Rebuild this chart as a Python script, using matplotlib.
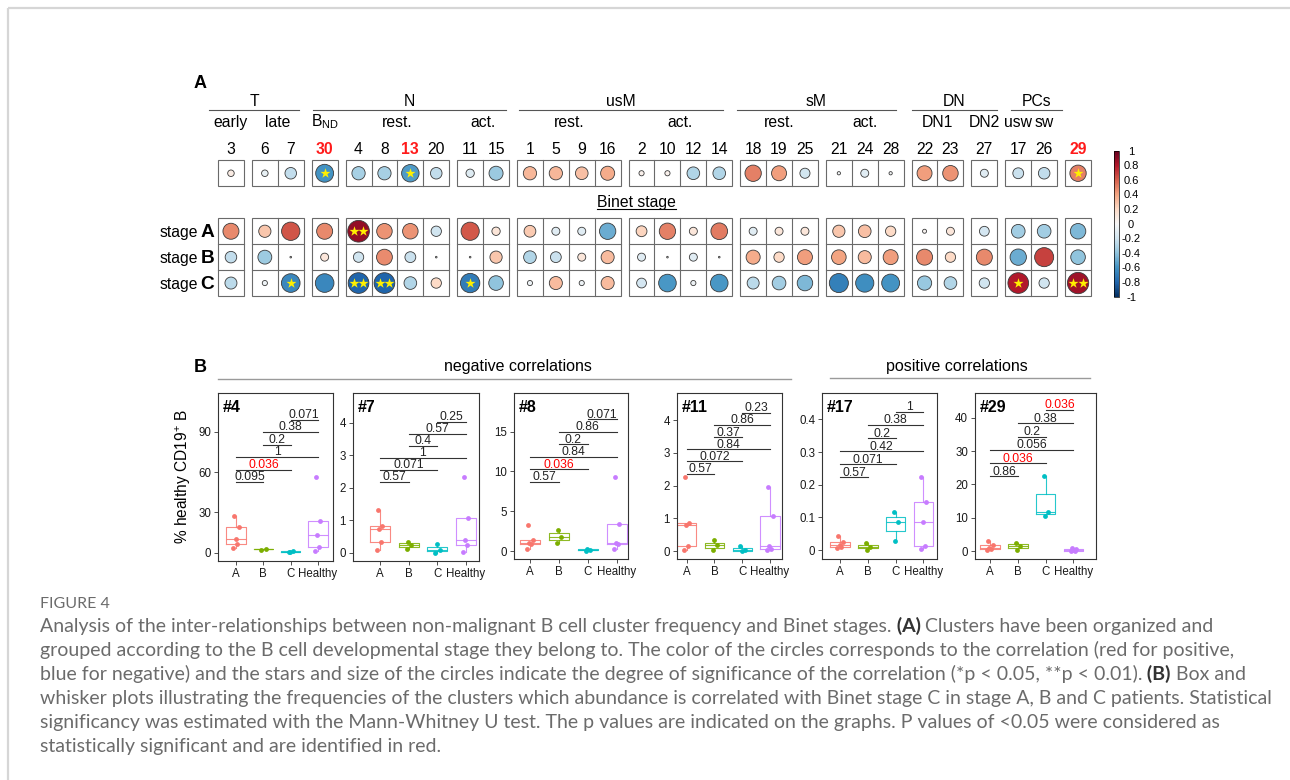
import numpy as np
import matplotlib
matplotlib.use('Agg')
import matplotlib.pyplot as plt
from matplotlib.patches import Rectangle
from matplotlib.offsetbox import TextArea, HPacker, AnchoredOffsetbox
import matplotlib.transforms as mtransforms

plt.rcParams['font.family'] = ['Liberation Sans', 'DejaVu Sans']
plt.rcParams['mathtext.fontset'] = 'custom'
plt.rcParams['mathtext.rm'] = 'Liberation Sans'
plt.rcParams['mathtext.it'] = 'Liberation Sans:italic'
plt.rcParams['mathtext.bf'] = 'Liberation Sans:bold'
plt.rcParams['axes.unicode_minus'] = False

# ---------------- Panel A data ----------------
clusters = [3, 6, 7, 30, 4, 8, 13, 20, 11, 15, 1, 5, 9, 16, 2, 10, 12, 14,
            18, 19, 25, 21, 24, 28, 22, 23, 27, 17, 26, 29]
box_sizes = [1, 2, 1, 4, 2, 4, 4, 3, 3, 2, 1, 2, 1]
highlight_clusters = [30, 13, 29]

corr_all = [0.08, -0.08, -0.25, -0.6, -0.33, -0.33, -0.57, -0.25, -0.13, -0.37,
            0.33, 0.33, 0.3, 0.37, 0.05, 0.05, -0.3, -0.3,
            0.5, 0.42, -0.19, -0.02, -0.12, -0.02, 0.42, 0.45, -0.12, -0.22, -0.25, 0.5]
corr_A = [0.48, 0.28, 0.63, 0.48, 0.88, 0.45, 0.45, -0.2, 0.62, 0.13,
          0.26, -0.12, -0.12, -0.5, 0.22, 0.5, 0.12, 0.52,
          -0.12, 0.12, 0.12, 0.28, 0.3, 0.2, 0.03, 0.12, -0.18, -0.35, -0.35, -0.45]
corr_B = [-0.25, -0.36, 0.005, 0.12, -0.2, 0.47, -0.22, -0.005, 0.005, 0.28,
          -0.3, -0.22, 0.12, 0.32, -0.12, 0.005, -0.12, 0.005,
          0.37, 0.2, 0.42, 0.4, 0.32, 0.42, 0.48, 0.2, 0.48, -0.5, 0.68, -0.4]
corr_C = [-0.27, -0.05, -0.65, -0.65, -0.8, -0.8, -0.3, 0.2, -0.7, -0.4,
          -0.05, 0.32, -0.05, 0.32, -0.18, -0.58, -0.05, -0.58,
          -0.27, -0.35, -0.45, -0.68, -0.62, -0.6, -0.38, -0.3, -0.2, 0.8, -0.2, 0.85]
stars_all = {30: 1, 13: 1, 29: 1}
stars_A = {4: 2}
stars_B = {}
stars_C = {7: 1, 4: 2, 8: 2, 11: 1, 17: 1, 29: 2}

sub_labels = [('early', [3]), ('late', [6, 7]), (r'B$_{\mathrm{ND}}$', [30]),
              ('rest.', [4, 8, 13, 20]), ('act.', [11, 15]),
              ('rest.', [1, 5, 9, 16]), ('act.', [2, 10, 12, 14]),
              ('rest.', [18, 19, 25]), ('act.', [21, 24, 28]),
              ('DN1', [22, 23]), ('DN2', [27]), ('usw', [17]), ('sw', [26])]
group_labels = ['T', 'N', 'usM', 'sM', 'DN', 'PCs']
stage_names = ['A', 'B', 'C']
cbar_ticks = [1, 0.8, 0.6, 0.4, 0.2, 0, -0.2, -0.4, -0.6, -0.8, -1]

# ---------------- Panel B data ----------------
panel_titles = ['#4', '#7', '#8', '#11', '#17', '#29']
groups = ['A', 'B', 'C', 'Healthy']
vals_4 = [[27.3, 19.1, 9.9, 6.2, 3.7], [2.4, 2.6], [0.4, 1.6, 0.2], [56, 23.5, 13.2, 4.5, 1.2]]
vals_7 = [[1.31, 0.83, 0.73, 0.32, 0.08], [0.1, 0.24, 0.34], [0.0, 0.09, 0.26], [2.33, 1.06, 0.4, 0.24, 0.03]]
vals_8 = [[3.27, 1.38, 1.05, 0.84, 0.25], [1.05, 1.8, 2.64], [0.05, 0.15, 0.3], [9.34, 3.35, 0.96, 0.84, 0.2]]
vals_11 = [[2.27, 0.86, 0.8, 0.17, 0.02], [0.03, 0.18, 0.34], [0.17, 0.03, 0.0], [1.96, 1.07, 0.15, 0.06, 0.04]]
vals_17 = [[0.043, 0.026, 0.015, 0.01, 0.007], [0.022, 0.01, 0.0], [0.117, 0.087, 0.028], [0.224, 0.146, 0.085, 0.012, 0.004]]
vals_29 = [[3.1, 1.7, 1.0, 0.5, 0.2], [2.5, 1.6, 0.4], [22.6, 11.8, 10.4], [0.8, 0.5, 0.3, 0.1, 0.0]]
panel_values = [vals_4, vals_7, vals_8, vals_11, vals_17, vals_29]

comparisons = [(1, 2), (1, 3), (1, 4), (2, 3), (2, 4), (3, 4)]
pvals_4 = ['0.095', '0.036', '1', '0.2', '0.38', '0.071']
pvals_7 = ['0.57', '0.071', '1', '0.4', '0.57', '0.25']
pvals_8 = ['0.57', '0.036', '0.84', '0.2', '0.86', '0.071']
pvals_11 = ['0.57', '0.072', '0.84', '0.37', '0.86', '0.23']
pvals_17 = ['0.57', '0.071', '0.42', '0.2', '0.38', '1']
pvals_29 = ['0.86', '0.036', '0.056', '0.2', '0.38', '0.036']
panel_pvals = [pvals_4, pvals_7, pvals_8, pvals_11, pvals_17, pvals_29]
bracket_base = [52.6, 2.18, 8.7, 2.37, 0.2225, 22.4]
bracket_step = [9.3, 0.37, 1.57, 0.37, 0.04, 4.0]
panel_yticks = [[0, 30, 60, 90], [0, 1, 2, 3, 4], [0, 5, 10, 15], [0, 1, 2, 3, 4],
                [0, 0.1, 0.2, 0.3, 0.4], [0, 10, 20, 30, 40]]
panel_ylims = [(-5.9, 118.6), (-0.25, 4.9), (-1.04, 19.8), (-0.25, 4.82), (-0.0275, 0.48), (-2.4, 47.4)]
panel_xlims = [(0.35, 4.54), (0.05, 4.46), (0.46, 4.38), (0.64, 4.42), (0.36, 4.48), (0.46, 4.8)]
group_colors = ['#F8766D', '#7CAE00', '#00BFC4', '#C77CFF']

caption_lines = [
    [("Analysis of the inter-relationships between non-malignant B cell cluster frequency and Binet stages.", False),
     (" (A)", True), (" Clusters have been organized and", False)],
    [("grouped according to the B cell developmental stage they belong to. The color of the circles corresponds to the correlation (red for positive,", False)],
    [("blue for negative) and the stars and size of the circles indicate the degree of significance of the correlation (*p < 0.05, **p < 0.01).", False),
     (" (B)", True), (" Box and", False)],
    [("whisker plots illustrating the frequencies of the clusters which abundance is correlated with Binet stage C in stage A, B and C patients. Statistical", False)],
    [("significancy was estimated with the Mann-Whitney U test. The p values are indicated on the graphs. P values of <0.05 were considered as", False)],
    [("statistically significant and are identified in red.", False)],
]

# ---------------- Figure ----------------
W, H = 1290, 780
fig = plt.figure(figsize=(W / 100, H / 100), dpi=100)
ov = fig.add_axes([0, 0, 1, 1])
ov.set_xlim(0, W)
ov.set_ylim(H, 0)
ov.axis('off')

# frame border (top / left)
ov.plot([7.5, W], [7.5, 7.5], color='#d6d6d6', lw=1.6, solid_capstyle='butt')
ov.plot([7.5, 7.5], [7.5, H], color='#d6d6d6', lw=1.6, solid_capstyle='butt')

# ---- Panel A layout
X0, CELL, GAP = 218.0, 25.9, 8.0
TOP_Y0, ST_Y0, ROW_H = 160.3, 218.3, 25.9
col_x = []
box_ext = []
c = 0
for b, n in enumerate(box_sizes):
    left = X0 + c * CELL + b * GAP
    box_ext.append((left, left + n * CELL))
    for k in range(n):
        col_x.append(left + (k + 0.5) * CELL)
    c += n
col_x = np.array(col_x)
cx = {cl: col_x[i] for i, cl in enumerate(clusters)}

grid_col = '#6a6a6a'
for (l, r) in box_ext:
    ov.add_patch(Rectangle((l, TOP_Y0), r - l, ROW_H, fill=False, ec=grid_col, lw=0.8, zorder=2))
    ov.add_patch(Rectangle((l, ST_Y0), r - l, 3 * ROW_H, fill=False, ec=grid_col, lw=0.8, zorder=2))
    ncell = int(round((r - l) / CELL))
    for k in range(1, ncell):
        xx = l + k * CELL
        ov.plot([xx, xx], [TOP_Y0, TOP_Y0 + ROW_H], color=grid_col, lw=0.8, zorder=2)
        ov.plot([xx, xx], [ST_Y0, ST_Y0 + 3 * ROW_H], color=grid_col, lw=0.8, zorder=2)
    for k in (1, 2):
        yy = ST_Y0 + k * ROW_H
        ov.plot([l, r], [yy, yy], color=grid_col, lw=0.8, zorder=2)

row_y = [TOP_Y0 + ROW_H / 2] + [ST_Y0 + (k + 0.5) * ROW_H for k in range(3)]
row_vals = [corr_all, corr_A, corr_B, corr_C]
row_stars = [stars_all, stars_A, stars_B, stars_C]
K = 23.1  # max circle diameter in px
sc = None
for yv, vals, st in zip(row_y, row_vals, row_stars):
    v = np.array(vals)
    d_px = K * np.sqrt(np.abs(v))
    sizes = (d_px * 0.72) ** 2
    sc = ov.scatter(col_x, np.full(len(v), yv), c=v, s=sizes, cmap='RdBu_r', vmin=-1, vmax=1,
                    edgecolors='#3a3a3a', linewidths=0.6, zorder=3)
    for cl, ns in st.items():
        if ns == 1:
            xs = [cx[cl]]
        else:
            xs = [cx[cl] - 0.19 * CELL, cx[cl] + 0.19 * CELL]
        ov.scatter(xs, [yv] * len(xs), marker='*', s=58, color='#FFF000', linewidths=0, zorder=4)

# numbers
for cl in clusters:
    if cl in highlight_clusters:
        ov.text(cx[cl], 154.3, str(cl), ha='center', va='baseline', fontsize=11.3, color='#FF1A1A', fontweight='bold')
    else:
        ov.text(cx[cl], 154.3, str(cl), ha='center', va='baseline', fontsize=11.3, color='black')
# sub labels
for txt, cls in sub_labels:
    xm = np.mean([cx[q] for q in cls])
    ov.text(xm, 126.7, txt, ha='center', va='baseline', fontsize=11.3)
# group labels with hand-drawn underline extents (layout)
group_line_ext = [(209, 299), (312.7, 505.7), (519, 723), (736.7, 895.7), (912, 996.7), (1011, 1062)]
for txt, (l, r) in zip(group_labels, group_line_ext):
    ov.plot([l, r], [109.5, 109.5], color='#555555', lw=0.8)
    ov.text((l + r) / 2, 106.0, txt, ha='center', va='baseline', fontsize=11.3)

# stage row labels
for k, nm in enumerate(stage_names):
    yb = row_y[k + 1] + 5.8
    ov.text(198.5, yb, 'stage', ha='right', va='baseline', fontsize=11.3)
    ov.text(200.5, yb, nm, ha='left', va='baseline', fontsize=13.8, fontweight='bold')

# Binet stage underlined
tb = ov.text(636.7, 206.5, 'Binet stage', ha='center', va='baseline', fontsize=11.3)
fig.canvas.draw()
bb = tb.get_window_extent()
ov.plot([bb.x0, bb.x1], [209.3, 209.3], color='black', lw=0.8)

ov.text(200, 84, 'A', ha='center', va='center', fontsize=13, fontweight='bold')
ov.text(200, 367, 'B', ha='center', va='center', fontsize=13, fontweight='bold')

# colorbar
cax = fig.add_axes([1114 / W, 1 - 296.7 / H, 5.3 / W, 146.0 / H])
cb = fig.colorbar(sc, cax=cax, ticks=cbar_ticks)
cb.outline.set_linewidth(0.5)
cb.ax.set_yticklabels([f"{t + 0.0:g}" for t in cbar_ticks])
cb.ax.tick_params(length=0, pad=8.5, labelsize=8)
for lb in cb.ax.get_yticklabels():
    lb.set_horizontalalignment('center')

# ---- Panel B
ov.plot([218, 791], [379, 379], color='#9a9a9a', lw=1.0)
ov.text(518, 371, 'negative correlations', ha='center', va='baseline', fontsize=11.5)
ov.plot([830, 1090], [378, 378], color='#9a9a9a', lw=1.0)
ov.text(957, 371, 'positive correlations', ha='center', va='baseline', fontsize=11.5)
ov.text(183, 477, '% healthy CD19$^{+}$ B', rotation=90, ha='center', va='center', fontsize=11.2)

ax_pix = [(218.3, 393.3, 332.7, 560.7), (352.7, 393.3, 479.0, 560.7), (514.3, 393.3, 627.7, 559.3),
          (676.7, 393.3, 781.7, 559.3), (822.3, 393.3, 936.7, 559.0), (975.0, 393.3, 1095.7, 559.0)]
jit = [-0.07, 0.09, -0.02, 0.05, -0.1, 0.02]
for i, (l, t, r, b) in enumerate(ax_pix):
    ax = fig.add_axes([l / W, 1 - b / H, (r - l) / W, (b - t) / H])
    data = panel_values[i]
    bp = ax.boxplot(data, positions=[1, 2, 3, 4], widths=0.7, showfliers=False, showcaps=False,
                    patch_artist=False, manage_ticks=False)
    for k in range(4):
        col = group_colors[k]
        for art in [bp['boxes'][k], bp['medians'][k], bp['whiskers'][2 * k], bp['whiskers'][2 * k + 1]]:
            art.set_color(col)
            art.set_linewidth(0.8)
            art.set_alpha(0.85)
        pts = data[k]
        ax.scatter([k + 1 + jit[j % len(jit)] for j in range(len(pts))], pts, s=12, color=col,
                   zorder=3, linewidths=0)
    off = mtransforms.offset_copy(ax.transData, fig=fig, x=0, y=1.2, units='points')
    for j, ((a1, a2), p) in enumerate(zip(comparisons, panel_pvals[i])):
        yy = bracket_base[i] + bracket_step[i] * j
        ax.plot([a1, a2], [yy, yy], color='#333333', lw=0.8)
        colr = '#FF0000' if float(p) < 0.05 else '#222222'
        ax.text((a1 + a2) / 2, yy, p, transform=off, ha='center', va='baseline', fontsize=8.7, color=colr)
    ax.set_xlim(*panel_xlims[i])
    ax.set_ylim(*panel_ylims[i])
    ax.set_yticks(panel_yticks[i])
    ax.set_yticklabels([f"{v:g}" for v in panel_yticks[i]])
    ax.set_xticks([1, 2, 3, 4])
    ax.set_xticklabels(groups)
    ax.tick_params(labelsize=8.3, length=3, width=0.6, colors='#333333', pad=2)
    ax.tick_params(axis='both', labelcolor='#1a1a1a')
    for sp in ax.spines.values():
        sp.set_linewidth(0.8)
        sp.set_color('#333333')
    ax.annotate(panel_titles[i], xy=(0, 1), xycoords='axes fraction', xytext=(3.5, -5),
                textcoords='offset points', ha='left', va='top', fontsize=11.5, fontweight='bold')

# ---- Caption
cap_font = 'Lato'
line4 = caption_lines[3][0][0]
tmp = fig.text(0, 0, line4, fontsize=10, family=cap_font)
fig.canvas.draw()
wpx = tmp.get_window_extent().width
tmp.remove()
cap_fs = 10 * 1233.0 / wpx

ov.text(40, 604, 'FIGURE 4', ha='left', va='center', fontsize=cap_fs * 0.82, color='#6b6b6b', family=cap_font)
line_y = [626, 650, 674, 698.5, 722.5, 746.5]
for yc, runs in zip(line_y, caption_lines):
    kids = []
    for txt, bold in runs:
        kids.append(TextArea(txt, textprops=dict(fontsize=cap_fs, family=cap_font,
                                                   color='#333333' if bold else '#6b6b6b',
                                                   fontweight='bold' if bold else 'normal')))
    pk = HPacker(children=kids, align='baseline', pad=0, sep=0)
    ab = AnchoredOffsetbox(loc='center left', child=pk, pad=0, borderpad=0, frameon=False,
                           bbox_to_anchor=(40 / W, 1 - yc / H), bbox_transform=fig.transFigure)
    ov.add_artist(ab)

fig.savefig('out.png', dpi=100)
